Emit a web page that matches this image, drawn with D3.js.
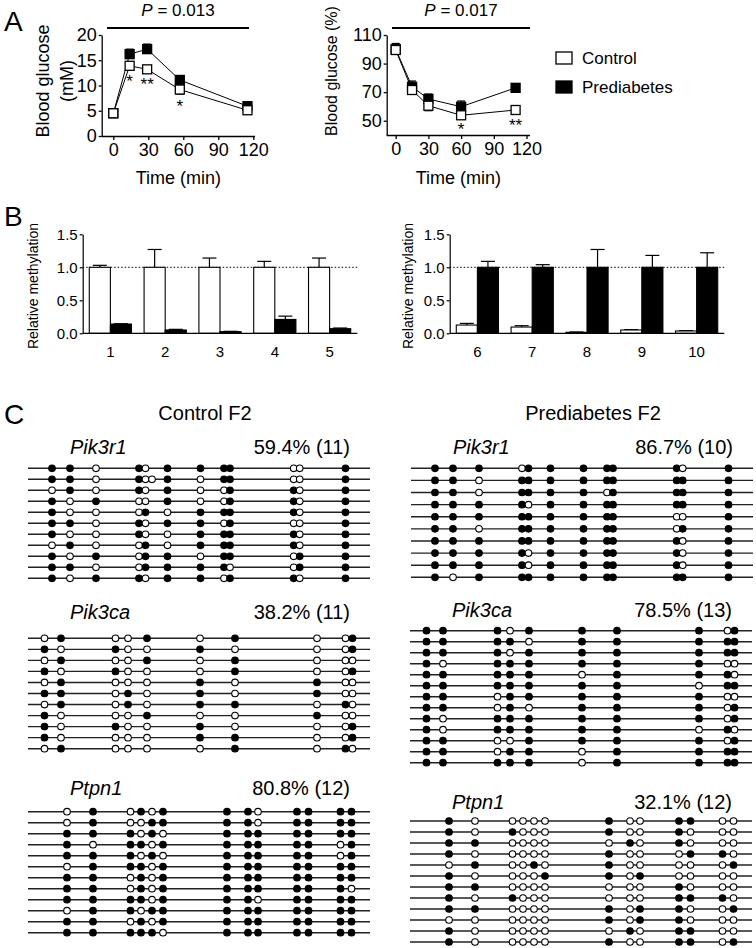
<!DOCTYPE html>
<html>
<head>
<meta charset="utf-8">
<script src="https://cdn.jsdelivr.net/npm/d3@7"></script>
<style>
  body { margin: 0; background: #fff; }
  text { font-family: Arial, 'Liberation Sans', sans-serif; fill: #000; }
</style>
</head>
<body>
<svg id="fig" width="756" height="948"></svg>
<script>
// ---- panel A data ----
const timeTicks = [0, 30, 60, 90, 120];
const ogttTime = [0, 14, 29, 57, 115];
const ogttControl = [4.5, 13.9, 13.2, 9.2, 5.1];
const ogttControlErr = [0.3, 0.6, 0.5, 0.9, 0.4];
const ogttPrediabetes = [4.5, 16.2, 17.2, 11.1, 5.9];
const ogttPrediabetesErr = [0.3, 1.0, 1.0, 0.8, 0.5];
const ogttStars = ['', '*', '**', '*', ''];

const ittTime = [0, 15, 30, 60, 110];
const ittControl = [99.5, 71.5, 60.5, 53.8, 57.5];
const ittControlErr = [2.5, 3, 3.5, 1.5, 2];
const ittPrediabetes = [100.1, 73.8, 65.2, 59.8, 73];
const ittPrediabetesErr = [4, 4, 3.5, 4, 3];
const ittStars = ['', '', '', '*', '**'];

// ---- panel B data ----
const regionsLeft = ['1', '2', '3', '4', '5'];
const methControlLeft = [1, 1, 1, 1, 1];
const methControlLeftErr = [0.03, 0.27, 0.14, 0.09, 0.14];
const methPreLeft = [0.14, 0.05, 0.025, 0.21, 0.07];
const methPreLeftErr = [0.005, 0.01, 0.005, 0.05, 0.01];

const regionsRight = ['6', '7', '8', '9', '10'];
const methControlRight = [0.125, 0.095, 0.015, 0.05, 0.035];
const methControlRightErr = [0.025, 0.02, 0.005, 0.005, 0.005];
const methPreRight = [1, 1, 1, 1, 1];
const methPreRightErr = [0.09, 0.04, 0.27, 0.18, 0.22];

// ---- panel C data: CpG positions along amplicon, clones as strings (1 = methylated, 0 = not, - = absent) ----
const pik3r1Sites = [24, 42, 68, 111, 117.5, 124, 139.5, 172.5, 196, 202, 265.7, 271.7, 317.5];
const pik3r1Control = [
  '11010-1111001', '1101001011001', '01010-1001101', '10100-1001101',
  '10001-0111101', '11010-1101001', '10010-0111101', '01001-0111101',
  '10101-1011011', '11001-1110011', '10110-1101101'
];
const pik3r1Prediabetes = [
  '11101-1111101', '11011-1111111', '11011-1101111', '11110-1111111',
  '11111-1111001', '11011-1111011', '11111-1111101', '11110-1111101',
  '11110-1111101', '10111-1111111'
];
const pik3caSites = [16.5, 33, 87.5, 100, 119, 172, 207, 289, 317.5, 324.5];
const pik3caControl = [
  '0100101001', '1010010001', '0100101000', '1010001001', '0100010100',
  '1101010100', '0101011010', '1000100100', '1010010001', '1000011001', '0100001010'
];
const pik3caPrediabetes = [
  '1110111101', '1111011111', '1110111111', '1011111100', '1111101110',
  '1111111011', '1101111100', '1101011101', '1011111101', '1011111010',
  '1100111101', '1101101111', '1111101111'
];
const ptpn1Sites = [39, 65, 102.5, 113, 124, 135, 199, 220, 230, 269, 280.5, 312.5, 323.5];
const ptpn1Control = [
  '0101011101111', '0100111101111', '1110101111111', '1011011111101',
  '1110101111101', '0111011111111', '1101011111111', '1101011111110',
  '1111011101111', '0110111111111', '1101011111111', '1111101111111'
];
const ptpn1Prediabetes = [
  '1000001001100', '1010001001000', '1100000101000', '1000001000110',
  '0100101000001', '1000011010000', '1100000001000', '1010000001110',
  '1100001011001', '0000001011000', '1000000101100', '1000001001101'
];

const svg = d3.select('#fig');

// panel letters
svg.append('text').attr('x', 4).attr('y', 31).attr('font-size', 28).text('A');
svg.append('text').attr('x', 4).attr('y', 226).attr('font-size', 28).text('B');
svg.append('text').attr('x', 4).attr('y', 424).attr('font-size', 28).text('C');

// ---------- panel A ----------
function drawCurve(cfg) {
  const g = svg.append('g');
  const x = d3.scaleLinear().domain([0, 120]).range(cfg.xRange);
  const y = d3.scaleLinear().domain(cfg.yDomain).range([cfg.yBottom, 35]);

  const ya = g.append('g')
    .attr('transform', `translate(${cfg.axisX},0)`)
    .call(d3.axisLeft(y).tickValues(cfg.yTicks).tickSize(3).tickPadding(2).tickSizeOuter(0));
  const xa = g.append('g')
    .attr('transform', `translate(0,${cfg.yBottom})`)
    .call(d3.axisBottom(x).tickValues(timeTicks).tickSize(4).tickPadding(3).tickSizeOuter(0));
  xa.select('.domain').attr('d', `M${cfg.axisX},0.5H${cfg.axisEnd}`);
  [ya, xa].forEach(a => {
    a.selectAll('path,line').attr('stroke', '#000').attr('stroke-width', 1.3);
    a.selectAll('text').attr('font-size', 18).attr('font-family', 'Arial, Liberation Sans, sans-serif');
  });

  const line = d3.line().x(d => x(d[0])).y(d => y(d[1]));
  const series = [
    { t: cfg.time, v: cfg.pre, e: cfg.preErr, fill: '#000', dir: 1 },
    { t: cfg.time, v: cfg.ctrl, e: cfg.ctrlErr, fill: '#fff', dir: -1 }
  ];
  series.forEach(s => {
    const pts = s.t.map((t, i) => [t, s.v[i]]);
    g.append('path').attr('d', line(pts)).attr('fill', 'none').attr('stroke', '#000').attr('stroke-width', 1);
    pts.forEach((p, i) => {
      const yy = y(p[1] + s.dir * s.e[i]);
      g.append('line').attr('x1', x(p[0])).attr('x2', x(p[0])).attr('y1', y(p[1])).attr('y2', yy)
        .attr('stroke', '#000').attr('stroke-width', 1.2);
      g.append('line').attr('x1', x(p[0]) - 4).attr('x2', x(p[0]) + 4).attr('y1', yy).attr('y2', yy)
        .attr('stroke', '#000').attr('stroke-width', 1.2);
    });
    g.selectAll(null).data(pts).enter().append('rect')
      .attr('x', d => x(d[0]) - 4.5).attr('y', d => y(d[1]) - 4.5)
      .attr('width', 9).attr('height', 9)
      .attr('fill', s.fill).attr('stroke', '#000').attr('stroke-width', 1.3);
  });

  // significance stars under the control curve
  cfg.stars.forEach((s, i) => {
    if (!s) return;
    g.append('text').attr('x', x(cfg.time[i])).attr('y', y(cfg.ctrl[i] - cfg.ctrlErr[i]) + 18)
      .attr('text-anchor', 'middle').attr('font-size', 17).text(s);
  });

  // P value bar
  g.append('line').attr('x1', cfg.pLine[0]).attr('x2', cfg.pLine[1]).attr('y1', 28).attr('y2', 28)
    .attr('stroke', '#000').attr('stroke-width', 2);
  const pt = g.append('text').attr('x', (cfg.pLine[0] + cfg.pLine[1]) / 2).attr('y', 16)
    .attr('text-anchor', 'middle').attr('font-size', 17);
  pt.append('tspan').attr('font-style', 'italic').text('P');
  pt.append('tspan').text(' = ' + cfg.p);

  g.append('text').attr('x', (cfg.axisX + cfg.axisEnd) / 2).attr('y', 184)
    .attr('text-anchor', 'middle').attr('font-size', 18).text('Time (min)');
  cfg.yLabel.forEach(l => {
    g.append('text').attr('transform', `translate(${l.x},${l.y}) rotate(-90)`)
      .attr('dy', '0.35em').attr('text-anchor', 'middle').attr('font-size', l.size).text(l.text);
  });
}

drawCurve({
  xRange: [113.3, 253.3], axisX: 101.7, axisEnd: 255, yBottom: 136,
  yDomain: [0, 20], yTicks: [0, 5, 10, 15, 20],
  time: ogttTime, ctrl: ogttControl, ctrlErr: ogttControlErr,
  pre: ogttPrediabetes, preErr: ogttPrediabetesErr, stars: ogttStars,
  pLine: [107, 249], p: '0.013',
  yLabel: [{ x: 43, y: 81, size: 18, text: 'Blood glucose' }, { x: 67, y: 81, size: 18, text: '(mM)' }]
});
drawCurve({
  xRange: [395.7, 526.5], axisX: 386.7, axisEnd: 530, yBottom: 135,
  yDomain: [40, 110], yTicks: [50, 70, 90, 110],
  time: ittTime, ctrl: ittControl, ctrlErr: ittControlErr,
  pre: ittPrediabetes, preErr: ittPrediabetesErr, stars: ittStars,
  pLine: [392, 530], p: '0.017',
  yLabel: [{ x: 331, y: 71, size: 16, text: 'Blood glucose (%)' }]
});

// legend
const legend = [{ label: 'Control', fill: '#fff' }, { label: 'Prediabetes', fill: '#000' }];
legend.forEach((d, i) => {
  svg.append('rect').attr('x', 556).attr('y', 52 + i * 29).attr('width', 16).attr('height', 12)
    .attr('fill', d.fill).attr('stroke', '#000').attr('stroke-width', 1.3);
  svg.append('text').attr('x', 582).attr('y', 64 + i * 29).attr('font-size', 17).text(d.label);
});

// ---------- panel B ----------
function drawBars(cfg) {
  const g = svg.append('g');
  const x = d3.scaleBand().domain(cfg.regions).range([cfg.x0, cfg.x1]).paddingInner(0.23).paddingOuter(0.12);
  const sub = d3.scaleBand().domain(['c', 'p']).range([0, x.bandwidth()]);
  const y = d3.scaleLinear().domain([0, 1.5]).range([333.3, 234.3]);

  const ya = g.append('g').attr('transform', `translate(${cfg.x0},0)`)
    .call(d3.axisLeft(y).tickValues([0, 0.5, 1, 1.5]).tickFormat(d3.format('.1f')).tickSize(3).tickPadding(2).tickSizeOuter(0));
  ya.selectAll('path,line').attr('stroke', '#000').attr('stroke-width', 1.2);
  ya.selectAll('text').attr('font-size', 15).attr('font-family', 'Arial, Liberation Sans, sans-serif');

  g.append('line').attr('x1', cfg.x0).attr('x2', cfg.x1).attr('y1', y(1)).attr('y2', y(1))
    .attr('stroke', '#000').attr('stroke-width', 1).attr('stroke-dasharray', '1.5,2');

  const groups = [
    { key: 'c', v: cfg.ctrl, e: cfg.ctrlErr, fill: '#fff' },
    { key: 'p', v: cfg.pre, e: cfg.preErr, fill: '#000' }
  ];
  groups.forEach(s => {
    cfg.regions.forEach((r, i) => {
      const bx = x(r) + sub(s.key);
      const cx = bx + sub.bandwidth() / 2;
      const top = y(s.v[i] + s.e[i]);
      g.append('line').attr('x1', cx).attr('x2', cx).attr('y1', y(s.v[i])).attr('y2', top)
        .attr('stroke', '#000').attr('stroke-width', 1.2);
      g.append('line').attr('x1', cx - 7).attr('x2', cx + 7).attr('y1', top).attr('y2', top)
        .attr('stroke', '#000').attr('stroke-width', 1.2);
      g.append('rect').attr('x', bx).attr('y', y(s.v[i]))
        .attr('width', sub.bandwidth()).attr('height', y(0) - y(s.v[i]))
        .attr('fill', s.fill).attr('stroke', '#000').attr('stroke-width', 1.1);
    });
  });

  g.append('line').attr('x1', cfg.x0).attr('x2', cfg.x1).attr('y1', y(0)).attr('y2', y(0))
    .attr('stroke', '#000').attr('stroke-width', 1.3);
  cfg.regions.forEach(r => {
    g.append('text').attr('x', x(r) + x.bandwidth() / 2).attr('y', 357)
      .attr('text-anchor', 'middle').attr('font-size', 15).text(r);
  });
  g.append('text').attr('transform', `translate(${cfg.labelX},286) rotate(-90)`)
    .attr('dy', '0.35em').attr('text-anchor', 'middle').attr('font-size', 14).text('Relative methylation');
}

drawBars({ regions: regionsLeft, ctrl: methControlLeft, ctrlErr: methControlLeftErr,
  pre: methPreLeft, preErr: methPreLeftErr, x0: 82.7, x1: 357.3, labelX: 33 });
drawBars({ regions: regionsRight, ctrl: methControlRight, ctrlErr: methControlRightErr,
  pre: methPreRight, preErr: methPreRightErr, x0: 449.7, x1: 724.3, labelX: 408 });

// ---------- panel C ----------
svg.append('text').attr('x', 205).attr('y', 420).attr('text-anchor', 'middle').attr('font-size', 20).text('Control F2');
svg.append('text').attr('x', 593).attr('y', 420).attr('text-anchor', 'middle').attr('font-size', 20).text('Prediabetes F2');

const blocks = [
  { gene: 'Pik3r1', pct: '59.4% (11)', sites: pik3r1Sites, rows: pik3r1Control, x0: 28, labelY: 454, y0: 468.3, y1: 578.3 },
  { gene: 'Pik3r1', pct: '86.7% (10)', sites: pik3r1Sites, rows: pik3r1Prediabetes, x0: 411, labelY: 454, y0: 468.3, y1: 577.3 },
  { gene: 'Pik3ca', pct: '38.2% (11)', sites: pik3caSites, rows: pik3caControl, x0: 28, labelY: 619, y0: 638.3, y1: 748.7 },
  { gene: 'Pik3ca', pct: '78.5% (13)', sites: pik3caSites, rows: pik3caPrediabetes, x0: 410, labelY: 617, y0: 630.7, y1: 762.7 },
  { gene: 'Ptpn1', pct: '80.8% (12)', sites: ptpn1Sites, rows: ptpn1Control, x0: 28, labelY: 795, y0: 811.7, y1: 932.7 },
  { gene: 'Ptpn1', pct: '32.1% (12)', sites: ptpn1Sites, rows: ptpn1Prediabetes, x0: 410, labelY: 809, y0: 821, y1: 942 }
];

blocks.forEach(b => {
  const g = svg.append('g');
  const len = 342;
  const x = d3.scaleLinear().domain([0, len]).range([b.x0, b.x0 + len]);
  const y = d3.scaleLinear().domain([0, b.rows.length - 1]).range([b.y0, b.y1]);

  g.append('text').attr('x', b.x0 + 42).attr('y', b.labelY).attr('font-size', 20)
    .attr('font-style', 'italic').text(b.gene);
  g.append('text').attr('x', b.x0 + 322).attr('y', b.labelY).attr('font-size', 20)
    .attr('text-anchor', 'end').text(b.pct);

  b.rows.forEach((row, i) => {
    g.append('line').attr('x1', x(0)).attr('x2', x(len)).attr('y1', y(i)).attr('y2', y(i))
      .attr('stroke', '#222').attr('stroke-width', 1.4);
    const cpg = row.split('').map((c, j) => ({ c, pos: b.sites[j] })).filter(d => d.c !== '-');
    g.selectAll(null).data(cpg).enter().append('circle')
      .attr('cx', d => x(d.pos)).attr('cy', y(i)).attr('r', 3.3)
      .attr('fill', d => d.c === '1' ? '#000' : '#fff')
      .attr('stroke', '#000').attr('stroke-width', 1.1);
  });
});
</script>
</body>
</html>
